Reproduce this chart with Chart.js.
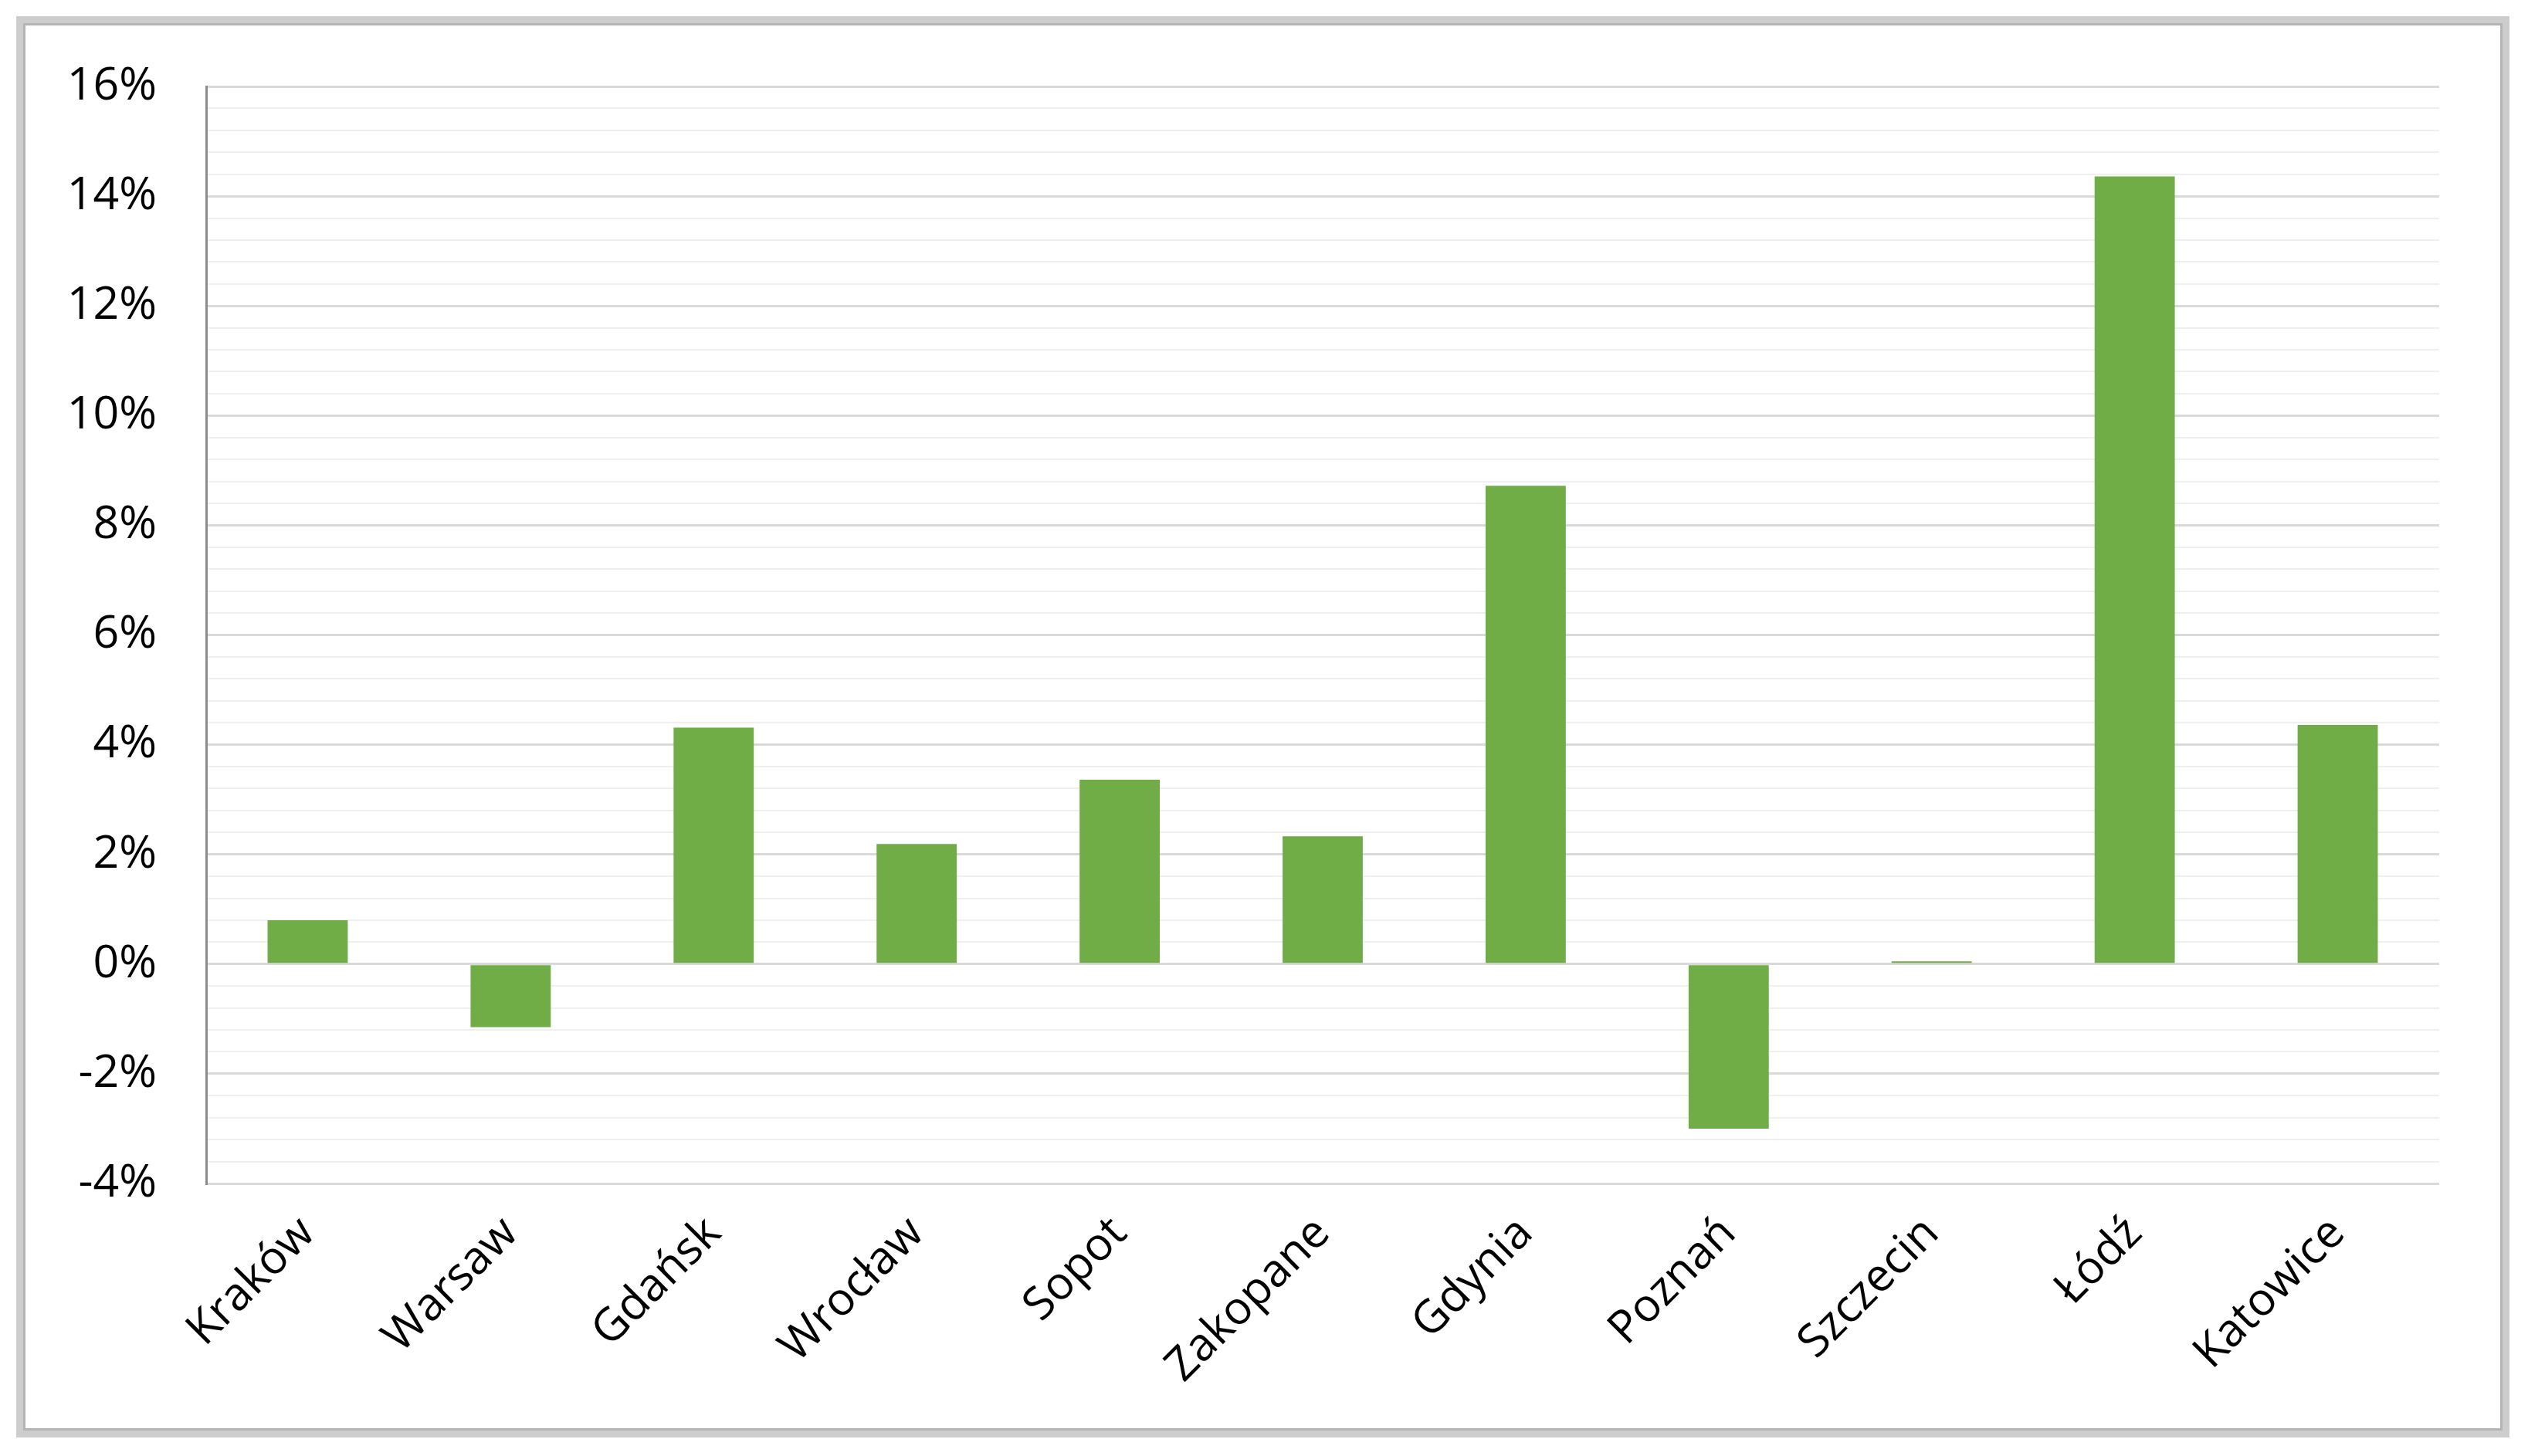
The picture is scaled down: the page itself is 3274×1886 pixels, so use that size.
<!DOCTYPE html>
<html>
<head>
<meta charset="utf-8">
<script src="https://cdn.jsdelivr.net/npm/chart.js@4"></script>
<style>
    html, body { margin: 0; padding: 0; background: #fff; }
    #wrap { position: absolute; left: 0; top: 0; width: 3274px; height: 1886px; }
    #frame {
        position: absolute; left: 21px; top: 21px; width: 3229px; height: 1841px;
        box-sizing: border-box; border: 9px solid #cdcdcd;
        box-shadow: inset 0 0 0 3px #b4b4b4;
        pointer-events: none;
    }
</style>
</head>
<body>
<div id="wrap"><canvas id="growthChart"></canvas></div>
<div id="frame"></div>
<script>
// data
const cities = ['Kraków', 'Warsaw', 'Gdańsk', 'Wrocław', 'Sopot', 'Zakopane', 'Gdynia', 'Poznań', 'Szczecin', 'Łódź', 'Katowice'];
const growth = [0.80, -1.15, 4.31, 2.19, 3.36, 2.33, 8.72, -3.00, 0.05, 14.36, 4.36];
const yMin = -4;
const yMax = 16;
const majorStep = 2;
const minorStep = 0.4;

const isMajor = v => Math.abs(v / majorStep - Math.round(v / majorStep)) < 1e-6;
const font = { family: 'Open Sans', size: 59 };

document.addEventListener('DOMContentLoaded', () => {
    Chart.defaults.font.family = 'Open Sans';
    new Chart(document.getElementById('growthChart'), {
        type: 'bar',
        data: {
            labels: cities,
            datasets: [{
                data: growth,
                backgroundColor: '#70ad47',
                borderWidth: 0,
                barPercentage: 0.395,
                categoryPercentage: 1
            }]
        },
        options: {
            responsive: true,
            maintainAspectRatio: false,
            animation: false,
            layout: {
                padding: { left: 0, top: 112, right: 115, bottom: 0 }
            },
            plugins: {
                legend: { display: false },
                tooltip: { enabled: false }
            },
            scales: {
                x: {
                    grid: { display: false, drawTicks: false },
                    border: { display: false },
                    ticks: {
                        color: '#000',
                        font: font,
                        minRotation: 45,
                        maxRotation: 45,
                        autoSkip: false,
                        padding: 30
                    },
                    afterFit: scale => { scale.height = 353; }
                },
                y: {
                    min: yMin,
                    max: yMax,
                    border: { color: '#8c8c8c', width: 3 },
                    grid: {
                        drawTicks: false,
                        color: ctx => isMajor(ctx.tick.value) ? '#d9d9d9' : '#efefef',
                        lineWidth: ctx => isMajor(ctx.tick.value) ? 3 : 2
                    },
                    ticks: {
                        stepSize: minorStep,
                        autoSkip: false,
                        color: '#000',
                        font: font,
                        padding: 64,
                        callback: v => isMajor(v) ? Math.round(v) + '%' : ''
                    },
                    afterFit: scale => { scale.width = 267; }
                }
            }
        }
    });
});
</script>
</body>
</html>
